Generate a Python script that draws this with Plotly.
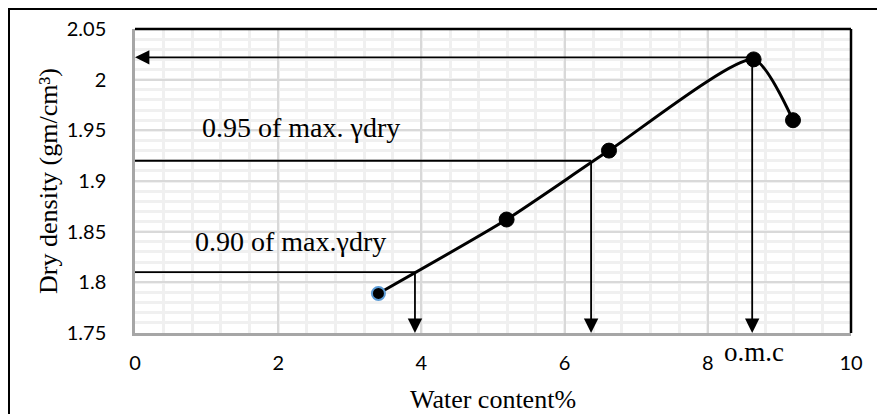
import plotly.graph_objects as go

# Compaction test results
water_content = [3.40, 5.19, 6.62, 8.64, 9.19]
dry_density = [1.789, 1.862, 1.930, 2.020, 1.960]

# Reference levels (max, 95 % and 90 % of max dry density)
max_level = 2.022
level_95 = 1.920
level_90 = 1.810
x_at_max = 8.62
x_at_95 = 6.37
x_at_90 = 3.91

x_tick_vals = [0, 2, 4, 6, 8, 10]
x_tick_text = ["0", "2", "4", "6", "8", "10"]
y_tick_vals = [1.75, 1.80, 1.85, 1.90, 1.95, 2.00, 2.05]
y_tick_text = ["1.75", "1.8", "1.85", "1.9", "1.95", "2", "2.05"]

W, H = 877, 414
ML, MR, MT, MB = 135, 26, 29, 81
PW, PH = W - ML - MR, H - MT - MB

X_MIN, X_MAX = x_tick_vals[0], x_tick_vals[-1]
Y_MIN, Y_MAX = y_tick_vals[0], y_tick_vals[-1]

SERIF = "Liberation Serif, Times New Roman, serif"
SANS = "Lato, Calibri, Carlito, sans-serif"


def px_x(p):
    return (p - ML) / PW


def px_y(p):
    return (MT + PH - p) / PH


fig = go.Figure()

# horizontal guide lines for 95 % and 90 % of max dry density
fig.add_trace(go.Scatter(
    x=[X_MIN, x_at_95], y=[level_95, level_95], mode="lines",
    line=dict(color="black", width=1.8), hoverinfo="skip", showlegend=False))
fig.add_trace(go.Scatter(
    x=[X_MIN, x_at_90], y=[level_90, level_90], mode="lines",
    line=dict(color="black", width=1.8), hoverinfo="skip", showlegend=False))

# smoothed compaction curve
marker_line_colors = ["#5b9bd5"] + ["#000000"] * (len(water_content) - 1)
marker_line_widths = [2] + [1] * (len(water_content) - 1)
marker_sizes = [13] + [15] * (len(water_content) - 1)
fig.add_trace(go.Scatter(
    x=water_content, y=dry_density, mode="lines+markers",
    line=dict(color="#000000", width=3, shape="spline", smoothing=0.6),
    marker=dict(color="#000000", size=marker_sizes, opacity=1,
                line=dict(color=marker_line_colors, width=marker_line_widths)),
    showlegend=False))

arrow_style = dict(showarrow=True, text="", arrowhead=2, arrowsize=1.6,
                   arrowwidth=1.8, arrowcolor="black", standoff=0,
                   axref="x", ayref="y", xref="x", yref="y")

annotations = [
    # arrow from the peak to the dry-density axis
    dict(x=X_MIN, y=max_level, ax=x_at_max, ay=max_level, **arrow_style),
    # arrows down to the water-content axis
    dict(x=x_at_max, y=Y_MIN, ax=x_at_max, ay=max_level, **arrow_style),
    dict(x=x_at_95, y=Y_MIN, ax=x_at_95, ay=level_95, **arrow_style),
    dict(x=x_at_90, y=Y_MIN, ax=x_at_90, ay=level_90, **arrow_style),
    dict(x=0.91, y=1.953, xref="x", yref="y", text="0.95 of max. \u03b3dry",
         showarrow=False, xanchor="left", yanchor="middle",
         font=dict(family=SERIF, size=28, color="black")),
    dict(x=0.81, y=1.840, xref="x", yref="y", text="0.90 of max.\u03b3dry",
         showarrow=False, xanchor="left", yanchor="middle",
         font=dict(family=SERIF, size=28, color="black")),
    dict(x=water_content[3], y=px_y(352), xref="x", yref="paper",
         text="o.m.c", showarrow=False, xanchor="center", yanchor="middle",
         font=dict(family=SERIF, size=27, color="black")),
]

shapes = [
    # outer chart frame (its right and bottom sides fall outside the page)
    dict(type="rect", xref="paper", yref="paper",
         x0=px_x(9), x1=px_x(W + 40), y0=px_y(H + 40), y1=px_y(9),
         line=dict(color="black", width=2), layer="above"),
    # plot-area border, top and right
    dict(type="line", xref="paper", yref="paper", x0=0, x1=1, y0=1, y1=1,
         line=dict(color="black", width=2.5), layer="above"),
    dict(type="line", xref="paper", yref="paper", x0=1, x1=1, y0=0, y1=1,
         line=dict(color="black", width=2.5), layer="above"),
]

fig.update_layout(
    width=W, height=H,
    margin=dict(l=ML, r=MR, t=MT, b=MB, pad=0, autoexpand=False),
    paper_bgcolor="white", plot_bgcolor="white",
    annotations=annotations, shapes=shapes,
    showlegend=False,
    xaxis=dict(
        range=[X_MIN, X_MAX], tickvals=x_tick_vals, ticktext=x_tick_text,
        automargin=False,
        showgrid=True, gridcolor="#d9d9d9", gridwidth=1.5,
        minor=dict(dtick=0.4, tick0=0, showgrid=True, gridcolor="#f0f0f0", gridwidth=2.5),
        showline=True, linecolor="#a6a6a6", linewidth=2.5,
        zeroline=False, ticks="", ticklabelstandoff=10,
        tickfont=dict(family=SANS, size=20, color="black"),
        title=dict(text="Water content%", standoff=20,
                   font=dict(family=SERIF, size=26, color="black")),
    ),
    yaxis=dict(
        range=[Y_MIN, Y_MAX], tickvals=y_tick_vals, ticktext=y_tick_text,
        automargin=False,
        showgrid=True, gridcolor="#d9d9d9", gridwidth=1.5,
        minor=dict(dtick=0.01, tick0=1.75, showgrid=True, gridcolor="#f0f0f0", gridwidth=2.5),
        showline=True, linecolor="#a6a6a6", linewidth=2.5,
        zeroline=False, ticks="", ticklabelstandoff=22,
        tickfont=dict(family=SANS, size=20, color="black"),
        title=dict(text="Dry density (gm/cm\u00b3)", standoff=2,
                   font=dict(family=SERIF, size=26, color="black")),
    ),
)

fig.write_html("out.html")
